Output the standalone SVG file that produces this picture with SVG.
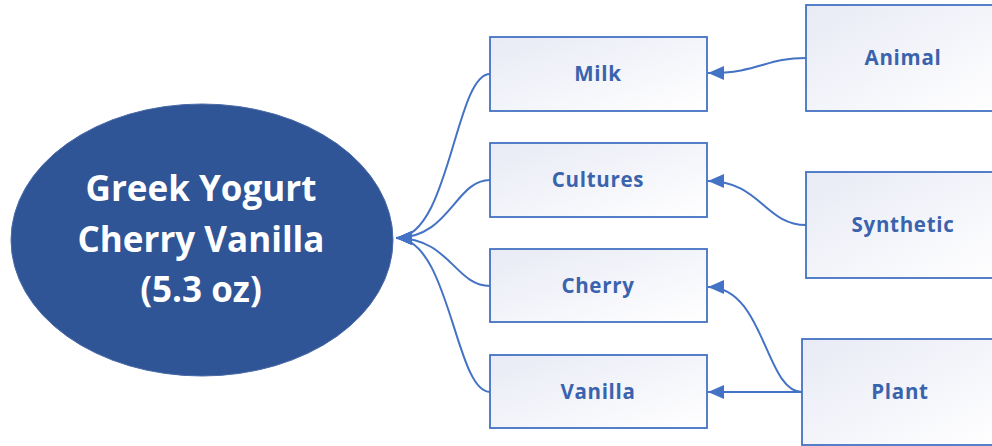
<svg xmlns="http://www.w3.org/2000/svg" width="992" height="446" viewBox="0 0 992 446">
<defs>
<linearGradient id="boxg" x1="0" y1="0" x2="1" y2="1">
<stop offset="0" stop-color="#e8eaf5"/>
<stop offset="1" stop-color="#ffffff"/>
</linearGradient>
<marker id="arr" markerUnits="userSpaceOnUse" markerWidth="17" markerHeight="14" viewBox="0 0 17 14" refX="16" refY="7" orient="auto">
<path d="M0,0 L16,7 L0,14 z" fill="#4472c4"/>
</marker>
<style>
.box{fill:url(#boxg);stroke:#4472c4;stroke-width:1.8}
.lbl{font-family:"Open Sans","Liberation Sans",sans-serif;font-weight:700;font-size:20.5px;letter-spacing:0.7px;fill:#3a63ad;text-anchor:middle}
.big{font-family:"Open Sans","Liberation Sans",sans-serif;font-weight:700;font-size:35px;fill:#ffffff;text-anchor:middle}
.con{fill:none;stroke:#4472c4;stroke-width:2;marker-end:url(#arr)}
</style>
</defs>
<rect width="992" height="446" fill="#ffffff"/>
<g id="connectors">
<path class="con" d="M490,74 C455,74 450,238 396,238"/>
<path class="con" d="M490,180 C455,180 450,238 396,238"/>
<path class="con" d="M490,286 C455,286 450,238 396,238"/>
<path class="con" d="M490,392 C455,392 450,238 396,238"/>
<path class="con" d="M806,58 C765,58 760,73 708,73"/>
<path class="con" d="M806,225 C765,225 760,181 708,181"/>
<path class="con" d="M802,392 C765,392 765,287 708,287"/>
<path class="con" d="M802,392 L708,392"/>
</g>
<g id="yogurt">
<ellipse cx="202" cy="240" rx="191" ry="136" fill="#2f5597" stroke="#4a6aa8" stroke-width="1"/>
<text class="big" x="201" y="201">Greek Yogurt</text>
<text class="big" x="201" y="252">Cherry Vanilla</text>
<text class="big" x="201" y="302">(5.3 oz)</text>
</g>
<g id="milk"><rect class="box" x="490" y="37" width="217" height="74"/><text class="lbl" x="598" y="81">Milk</text></g>
<g id="cultures"><rect class="box" x="490" y="143" width="217" height="74"/><text class="lbl" x="598" y="187">Cultures</text></g>
<g id="cherry"><rect class="box" x="490" y="249" width="217" height="73"/><text class="lbl" x="598" y="293">Cherry</text></g>
<g id="vanilla"><rect class="box" x="490" y="355" width="217" height="73"/><text class="lbl" x="598" y="399">Vanilla</text></g>
<g id="animal"><rect class="box" x="806" y="5" width="194" height="106"/><text class="lbl" x="903" y="65">Animal</text></g>
<g id="synthetic"><rect class="box" x="806" y="172" width="194" height="106"/><text class="lbl" x="903" y="232">Synthetic</text></g>
<g id="plant"><rect class="box" x="802" y="339" width="196" height="106"/><text class="lbl" x="900" y="399">Plant</text></g>
</svg>
